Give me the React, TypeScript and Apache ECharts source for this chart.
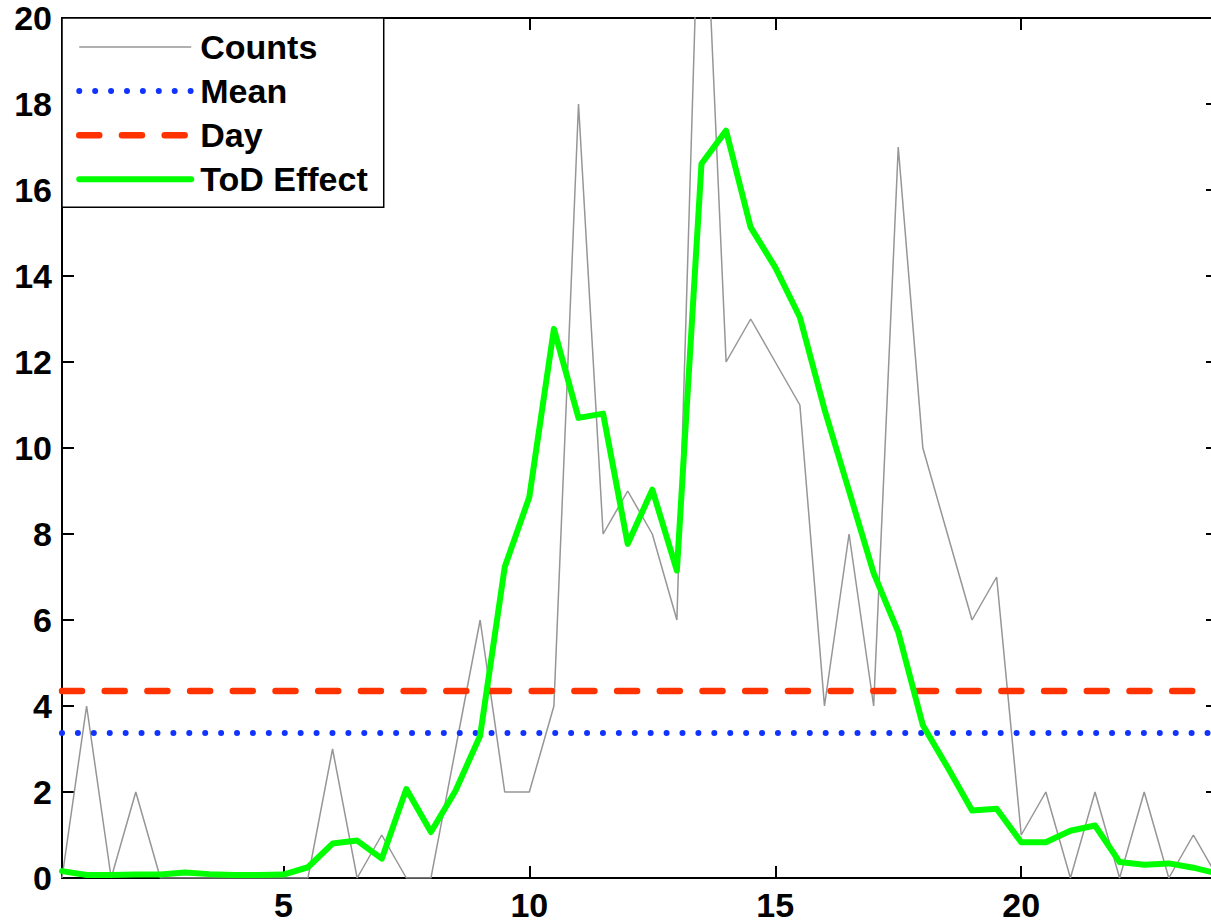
import React, { useEffect, useRef } from "react";
import * as echarts from "echarts";

const hours = [
  0.5, 1, 1.5, 2, 2.5, 3, 3.5, 4, 4.5, 5, 5.5, 6, 6.5, 7, 7.5, 8, 8.5, 9, 9.5, 10, 10.5, 11, 11.5, 12,
  12.5, 13, 13.5, 14, 14.5, 15, 15.5, 16, 16.5, 17, 17.5, 18, 18.5, 19, 19.5, 20, 20.5, 21, 21.5, 22,
  22.5, 23, 23.5, 24,
];
const counts = [
  0, 4, 0, 2, 0, 0, 0, 0, 0, 0, 0, 3, 0, 1, 0, 0, 3, 6, 2, 2, 4, 18, 8, 9, 8, 6, 25, 12, 13, 12, 11, 4,
  8, 4, 17, 10, 8, 6, 7, 1, 2, 0, 2, 0, 2, 0, 1, 0,
];
const todEffect = [
  0.16, 0.07, 0.07, 0.08, 0.08, 0.13, 0.09, 0.07, 0.07, 0.08, 0.25, 0.8, 0.87, 0.45, 2.07, 1.07, 2.03,
  3.31, 7.23, 8.86, 12.77, 10.7, 10.8, 7.77, 9.03, 7.15, 16.61, 17.38, 15.13, 14.2, 13.04, 10.9, 9.0,
  7.09, 5.72, 3.55, 2.58, 1.57, 1.61, 0.83, 0.83, 1.1, 1.22, 0.37, 0.31, 0.34, 0.24, 0.1,
];
const meanValue = 3.37;
const dayValue = 4.35;
const xRange = [0.5, 24];
const xTicks = [5, 10, 15, 20];
const yRange = [0, 20];
const yInterval = 2;
const seriesNames = ["Counts", "Mean", "Day", "ToD Effect"];

const FONT = "'Liberation Sans', Arial, sans-serif";

export default function App() {
  const ref = useRef<HTMLDivElement>(null);
  useEffect(() => {
    if (!ref.current) return;
    const chart = echarts.init(ref.current, null, { renderer: "svg" });
    const zip = (ys: number[]) => hours.map((h, i) => [h, ys[i]]);
    const axisLine = { show: true, onZero: false, lineStyle: { color: "#000", width: 2 } };
    const tick = { show: true, inside: true, length: 12, lineStyle: { color: "#000", width: 2 } };
    chart.setOption({
      animation: false,
      backgroundColor: "#fff",
      grid: { left: 62, top: 18, right: 2, bottom: 46, containLabel: false },
      legend: {
        orient: "vertical",
        left: 62,
        top: 18,
        data: seriesNames,
        backgroundColor: "#fff",
        borderColor: "#000",
        borderWidth: 1.5,
        borderRadius: 0,
        padding: [12, 16, 11, 14],
        itemWidth: 112,
        itemHeight: 30,
        itemGap: 10.1,
        itemStyle: { opacity: 0 },
        lineStyle: { width: "inherit" },
        textStyle: {
          fontFamily: FONT,
          fontSize: 34,
          fontWeight: "bold",
          color: "#000",
          padding: [0, 0, 0, 4],
        },
        selectedMode: false,
      },
      xAxis: [
        {
          type: "value",
          position: "bottom",
          min: xRange[0],
          max: xRange[1],
          axisLine,
          axisTick: { ...tick, customValues: xTicks },
          axisLabel: {
            customValues: xTicks,
            fontFamily: FONT,
            fontSize: 34,
            lineHeight: 34,
            fontWeight: "bold",
            color: "#000",
            margin: 10,
          },
          splitLine: { show: false },
        },
        {
          type: "value",
          position: "top",
          min: xRange[0],
          max: xRange[1],
          axisLine,
          axisTick: { ...tick, customValues: xTicks },
          axisLabel: { show: false },
          splitLine: { show: false },
        },
      ],
      yAxis: [
        {
          type: "value",
          position: "left",
          min: yRange[0],
          max: yRange[1],
          interval: yInterval,
          axisLine,
          axisTick: tick,
          axisLabel: {
            fontFamily: FONT,
            fontSize: 34,
            fontWeight: "bold",
            color: "#000",
            margin: 10,
          },
          splitLine: { show: false },
        },
        {
          type: "value",
          position: "right",
          min: yRange[0],
          max: yRange[1],
          interval: yInterval,
          axisLine,
          axisTick: tick,
          axisLabel: { show: false },
          splitLine: { show: false },
        },
      ],
      series: [
        {
          name: seriesNames[0],
          type: "line",
          data: zip(counts),
          symbol: "none",
          lineStyle: { color: "#969696", width: 1.5 },
          itemStyle: { color: "#969696" },
          z: 2,
        },
        {
          name: seriesNames[1],
          type: "line",
          data: [
            [xRange[0], meanValue],
            [xRange[1], meanValue],
          ],
          symbol: "none",
          lineStyle: { color: "#1133ff", width: 6, type: [0.01, 15.9], cap: "round" },
          itemStyle: { color: "#1133ff" },
          z: 3,
        },
        {
          name: seriesNames[2],
          type: "line",
          data: [
            [xRange[0], dayValue],
            [xRange[1], dayValue],
          ],
          symbol: "none",
          lineStyle: { color: "#ff3300", width: 6.5, type: [20, 22.7], cap: "round" },
          itemStyle: { color: "#ff3300" },
          z: 3,
        },
        {
          name: seriesNames[3],
          type: "line",
          data: zip(todEffect),
          symbol: "none",
          lineStyle: { color: "#00ff00", width: 6, join: "round", cap: "round" },
          itemStyle: { color: "#00ff00" },
          z: 4,
        },
      ],
    });
    return () => chart.dispose();
  }, []);
  return (
    <div
      style={{
        position: "fixed",
        left: 0,
        top: 0,
        width: 1211,
        height: 924,
        overflow: "hidden",
        background: "#fff",
      }}
    >
      <div ref={ref} style={{ width: 1220, height: 924 }} />
    </div>
  );
}
